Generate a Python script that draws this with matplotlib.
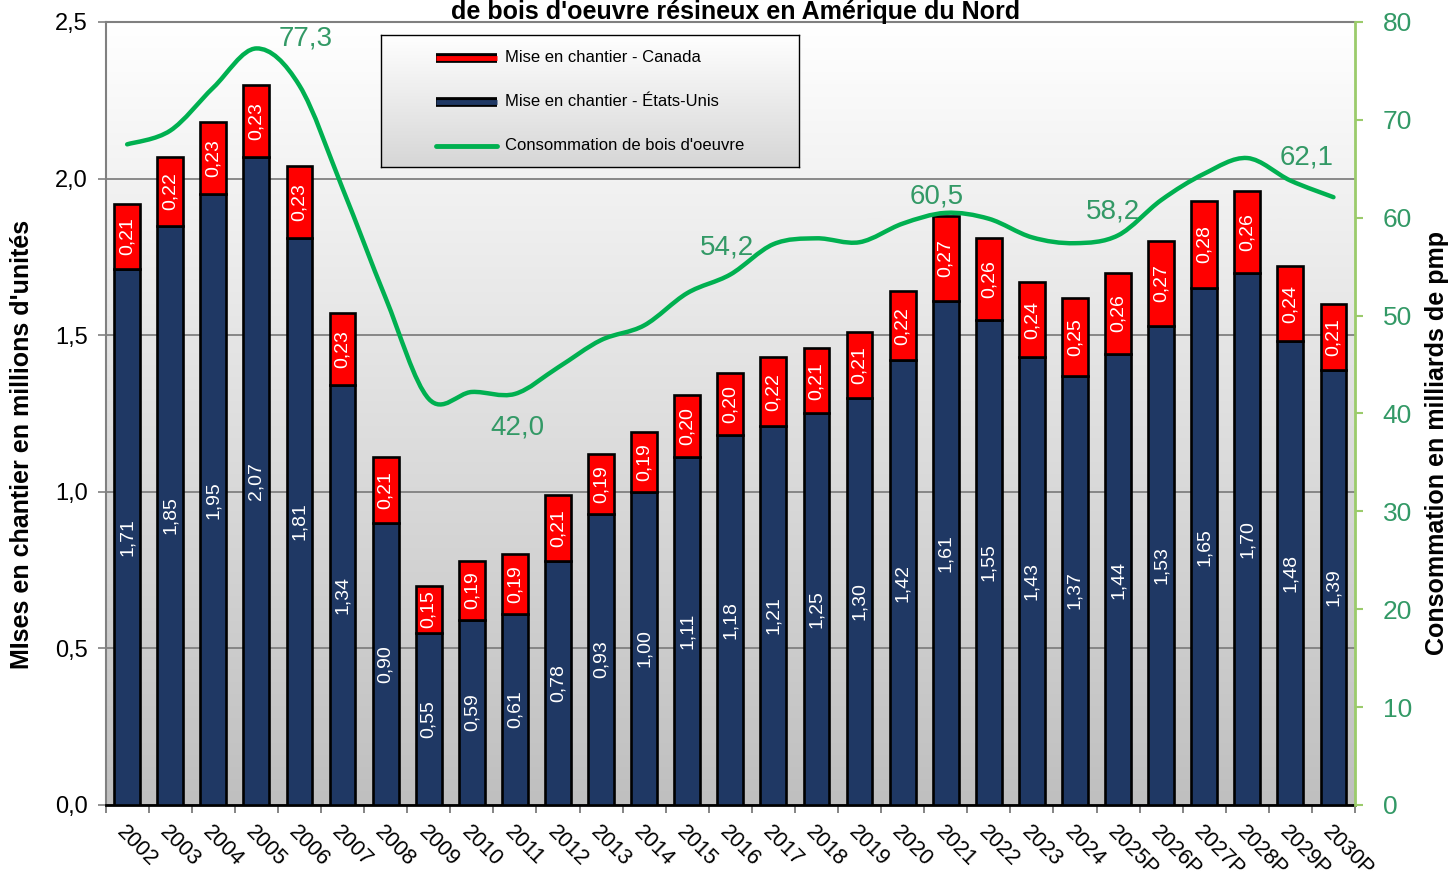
import numpy as np
import matplotlib
matplotlib.use('Agg')
import matplotlib.pyplot as plt
from matplotlib.path import Path
from matplotlib.patches import PathPatch
from matplotlib.colors import LinearSegmentedColormap
import matplotlib.patheffects as pe

plt.rcParams['font.family'] = ['Liberation Sans', 'DejaVu Sans']

# ---------------- data ----------------
years = ['2002', '2003', '2004', '2005', '2006', '2007', '2008', '2009', '2010',
         '2011', '2012', '2013', '2014', '2015', '2016', '2017', '2018', '2019',
         '2020', '2021', '2022', '2023', '2024', '2025P', '2026P', '2027P',
         '2028P', '2029P', '2030P']
us_starts = [1.71, 1.85, 1.95, 2.07, 1.81, 1.34, 0.90, 0.55, 0.59, 0.61, 0.78,
             0.93, 1.00, 1.11, 1.18, 1.21, 1.25, 1.30, 1.42, 1.61, 1.55, 1.43,
             1.37, 1.44, 1.53, 1.65, 1.70, 1.48, 1.39]
canada_starts = [0.21, 0.22, 0.23, 0.23, 0.23, 0.23, 0.21, 0.15, 0.19, 0.19, 0.21,
                 0.19, 0.19, 0.20, 0.20, 0.22, 0.21, 0.21, 0.22, 0.27, 0.26, 0.24,
                 0.25, 0.26, 0.27, 0.28, 0.26, 0.24, 0.21]
consumption = [67.5, 68.9, 73.3, 77.3, 73.5, 63.0, 51.8, 41.5, 42.2, 42.0, 44.7,
               47.5, 49.0, 52.3, 54.2, 57.3, 57.9, 57.5, 59.4, 60.5, 59.9, 58.0,
               57.4, 58.2, 61.8, 64.5, 66.1, 63.8, 62.1]
labeled_years = ['2005', '2011', '2016', '2021', '2025P', '2030P']
left_ticks = [0.0, 0.5, 1.0, 1.5, 2.0, 2.5]
right_ticks = [0, 10, 20, 30, 40, 50, 60, 70, 80]

title = "de bois d'oeuvre résineux en Amérique du Nord"
ylabel_left = "MIses en chantier en millions d'unités"
ylabel_right = "Consommation en milliards de pmp"
legend_labels = ["Mise en chantier - Canada", "Mise en chantier - États-Unis",
                 "Consommation de bois d'oeuvre"]

# ---------------- style ----------------
NAVY = '#1F3864'
RED = '#FF0000'
GREEN = '#00B050'
LABEL_GREEN = '#339966'
SPINE_GREEN = '#9BCB6B'
fmt = lambda v, d: f"{v:.{d}f}".replace('.', ',')

# label offsets in pixels (position styling)
label_offsets = {'2005': (49, 10), '2011': (3, -34), '2016': (-3, 27),
                 '2021': (-9, 16), '2025P': (-5, 24), '2030P': (-27, 40)}

W, H = 1452, 881
fig = plt.figure(figsize=(W / 100, H / 100), dpi=100)
fig.patch.set_facecolor('white')
L, R, T, B = 105.6, 1355, 22, 805
ax = fig.add_axes([L / W, 1 - B / H, (R - L) / W, (B - T) / H])

x = np.arange(len(years))

# background gradient
cmap_bg = LinearSegmentedColormap.from_list('bg', ['#BFBFBF', '#FFFFFF'])
grad = np.linspace(1, 0, 256).reshape(-1, 1)
ax.imshow(grad, extent=[0, 1, 0, 1], transform=ax.transAxes, aspect='auto',
          cmap=cmap_bg, zorder=-10, interpolation='bilinear')

ax.bar(x, us_starts, width=0.6, color=NAVY, edgecolor='black', linewidth=1.9, zorder=3)
ax.bar(x, canada_starts, bottom=us_starts, width=0.6, color=RED, edgecolor='black',
       linewidth=1.9, zorder=3)

for i in range(len(years)):
    ax.text(x[i], us_starts[i] / 2, fmt(us_starts[i], 2), rotation=90, ha='center',
            va='center', color='white', fontsize=14, zorder=4)
    ax.text(x[i], us_starts[i] + canada_starts[i] / 2, fmt(canada_starts[i], 2),
            rotation=90, ha='center', va='center', color='white', fontsize=14, zorder=4)

ax.set_xlim(-0.5, len(years) - 0.5)
ax.set_ylim(0, 2.5)
ax.set_yticks(left_ticks)
ax.set_yticklabels([fmt(v, 1) for v in left_ticks])
ax.yaxis.grid(True, color='#808080', linewidth=1.3)
ax.set_axisbelow(True)
ax.tick_params(axis='y', length=6, width=1.2, color='#808080', pad=7, labelsize=17)

ax.set_xticks(x)
ax.set_xticklabels(years, rotation=-45, ha='left', va='top', rotation_mode='anchor',
                   fontsize=15.5)
ax.set_xticks(np.arange(-0.5, len(years), 1), minor=True)
ax.tick_params(axis='x', which='major', length=0, pad=12)
ax.tick_params(axis='x', which='minor', length=6, width=1.2, color='#707070')

for s in ['left', 'top']:
    ax.spines[s].set_color('#808080')
    ax.spines[s].set_linewidth(1.5)
ax.spines['bottom'].set_color('black')
ax.spines['bottom'].set_linewidth(2)
ax.spines['right'].set_visible(False)

# ---------------- consumption line (smoothed Bezier like Excel) ----------------
ax2 = ax.twinx()
ax2.set_ylim(0, 80)
ax2.set_xlim(-0.5, len(years) - 0.5)
pts = np.column_stack([x, consumption]).astype(float)
n = len(pts)
verts = [pts[0]]
codes = [Path.MOVETO]
for i in range(n - 1):
    p0 = pts[i - 1] if i > 0 else pts[i]
    p1 = pts[i]
    p2 = pts[i + 1]
    p3 = pts[i + 2] if i + 2 < n else pts[i + 1]
    verts += [p1 + (p2 - p0) / 6, p2 - (p3 - p1) / 6, p2]
    codes += [Path.CURVE4] * 3
ax2.add_patch(PathPatch(Path(verts, codes), fill=False, edgecolor=GREEN, lw=3.2,
                        zorder=5, capstyle='round', joinstyle='round'))

for yr in labeled_years:
    i = years.index(yr)
    dx, dy = label_offsets[yr]
    ax2.annotate(fmt(consumption[i], 1), (x[i], consumption[i]), xytext=(dx, dy),
                 textcoords='offset pixels', ha='center', va='center',
                 color=LABEL_GREEN, fontsize=20, zorder=6)

ax2.set_yticks(right_ticks)
ax2.set_yticklabels([str(v) for v in right_ticks])
ax2.tick_params(axis='y', length=6, width=1.5, color=SPINE_GREEN, labelcolor=LABEL_GREEN,
                labelsize=19, pad=14)
for s in ['left', 'top', 'bottom']:
    ax2.spines[s].set_visible(False)
ax2.spines['right'].set_color(SPINE_GREEN)
ax2.spines['right'].set_linewidth(2)

# ---------------- texts ----------------
fig.text(736 / W, 1 - 19 / H, title, ha='center', va='baseline', fontsize=18,
         weight='bold')
fig.text(22 / W, 1 - 444 / H, ylabel_left, rotation=90, ha='center', va='center',
         fontsize=18, weight='bold')
fig.text(1437 / W, 1 - 443 / H, ylabel_right, rotation=90, ha='center', va='center',
         fontsize=18, weight='bold')

# ---------------- legend ----------------
lax = fig.add_axes([381 / W, 1 - 167 / H, 418 / W, 132 / H])
cmap_lg = LinearSegmentedColormap.from_list('lg', ['#D6D6D6', '#FFFFFF'])
lax.imshow(grad, extent=[0, 1, 0, 1], aspect='auto', cmap=cmap_lg, zorder=0,
           interpolation='bilinear')
lax.set_xlim(0, 1)
lax.set_ylim(0, 1)
lax.set_xticks([])
lax.set_yticks([])
for s in lax.spines.values():
    s.set_color('black')
    s.set_linewidth(1)
x0, x1 = (436 - 381) / 418, (497 - 381) / 418
rows = [(167 - 58) / 132, (167 - 102) / 132, (167 - 146) / 132]
lax.plot([x0, x1], [rows[0]] * 2, color=RED, lw=3.5, solid_capstyle='butt',
         path_effects=[pe.Stroke(linewidth=7, foreground='black'), pe.Normal()])
lax.plot([x0, x1], [rows[1]] * 2, color=NAVY, lw=3.5, solid_capstyle='butt',
         path_effects=[pe.Stroke(linewidth=7, foreground='black'), pe.Normal()])
lax.plot([x0, x1], [rows[2]] * 2, color=GREEN, lw=3.5, solid_capstyle='round')
for r, lab in zip(rows, legend_labels):
    lax.text((505 - 381) / 418, r, lab, ha='left', va='center', fontsize=12)

fig.savefig('out.png', dpi=100)
